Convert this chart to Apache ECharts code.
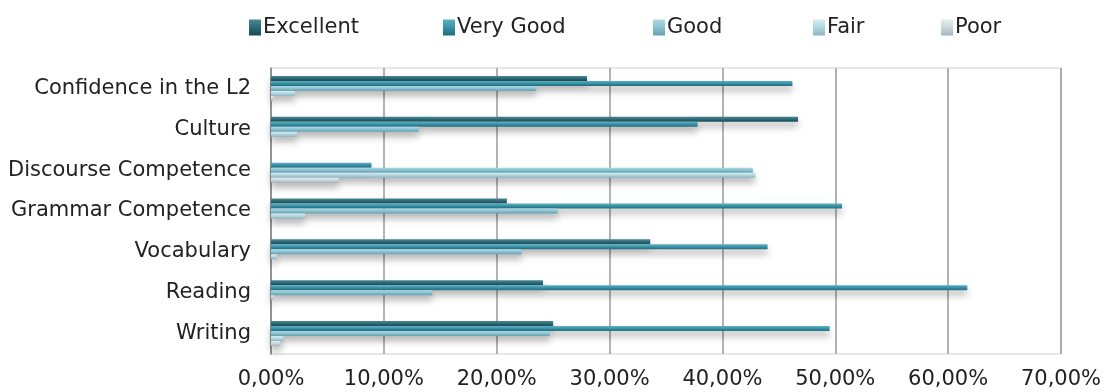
<!DOCTYPE html>
<html>
<head>
<meta charset="utf-8">
<script src="https://cdn.jsdelivr.net/npm/echarts@6/dist/echarts.min.js"></script>
<style>
  html, body { margin: 0; padding: 0; background: #fff; }
  #chart { width: 1107px; height: 392px; }
</style>
</head>
<body>
<div id="chart"></div>
<script>
var categories = ['Confidence in the L2', 'Culture', 'Discourse Competence', 'Grammar Competence', 'Vocabulary', 'Reading', 'Writing'];
var ticks = [0, 10, 20, 30, 40, 50, 60, 70];

// percentages
var excellent = [28.0, 46.7, 0, 20.9, 33.6, 24.1, 25.0];
var veryGood = [46.2, 37.8, 8.9, 50.6, 44.0, 61.7, 49.5];
var good = [23.5, 13.1, 42.7, 25.4, 22.2, 14.3, 24.7];
var fair = [2.1, 2.3, 42.9, 3.0, 0.5, 0.2, 1.1];
var poor = [0.2, 0, 6.0, 0, 0, 0, 0.8];

var seriesNames = ['Excellent', 'Very Good', 'Good', 'Fair', 'Poor'];
var seriesData = [excellent, veryGood, good, fair, poor];
// legend item x positions
var legendLeft = [244, 438, 648, 808, 936];
// top / middle / bottom shade of each bar
var shades = [
  ['#4a8794', '#2c6a77', '#1b4a54'],
  ['#5fb0c2', '#3792a6', '#226b7c'],
  ['#b0d9e5', '#89c2d1', '#66a0b0'],
  ['#d5ecf3', '#b2d7e1', '#8cb5c1'],
  ['#e4edf0', '#c9d8dc', '#a3b5b9']
];

var chart = echarts.init(document.getElementById('chart'));

function grad(c) {
  return new echarts.graphic.LinearGradient(0, 0, 0, 1, [
    { offset: 0, color: c[0] },
    { offset: 0.5, color: c[1] },
    { offset: 1, color: c[2] }
  ]);
}

var series = seriesNames.map(function (name, i) {
  return {
    name: name,
    type: 'bar',
    data: seriesData[i],
    barWidth: 5,
    barGap: '0%',
    itemStyle: {
      color: grad(shades[i]),
      shadowColor: 'rgba(0, 0, 0, 0.3)',
      shadowBlur: 7,
      shadowOffsetY: 5
    }
  };
});

var legends = seriesNames.map(function (name, i) {
  return {
    data: [name],
    left: legendLeft[i],
    top: 12,
    itemWidth: 12,
    itemHeight: 16,
    icon: 'rect',
    textStyle: { fontSize: 21, color: '#222', padding: [0, 0, 0, -3] }
  };
});

var option = {
  animation: false,
  textStyle: { fontFamily: 'DejaVu Sans' },
  legend: legends,
  grid: {
    left: 271,
    right: 46,
    top: 68,
    bottom: 38,
    show: true,
    borderColor: '#cfcfcf',
    borderWidth: 1
  },
  xAxis: {
    type: 'value',
    min: ticks[0],
    max: ticks[ticks.length - 1],
    interval: 10,
    axisLine: { show: false },
    axisTick: { show: false },
    splitLine: { lineStyle: { color: '#9a9a9a', width: 1.5 } },
    axisLabel: {
      fontSize: 21,
      color: '#222',
      margin: 15,
      formatter: function (v) {
        return v.toFixed(2).replace('.', ',') + '%';
      }
    }
  },
  yAxis: {
    type: 'category',
    inverse: true,
    data: categories,
    axisTick: { show: false },
    axisLine: { lineStyle: { color: '#8a8a8a', width: 1.5 } },
    axisLabel: { fontSize: 21, color: '#222', margin: 20 }
  },
  series: series
};

chart.setOption(option);
</script>
</body>
</html>
